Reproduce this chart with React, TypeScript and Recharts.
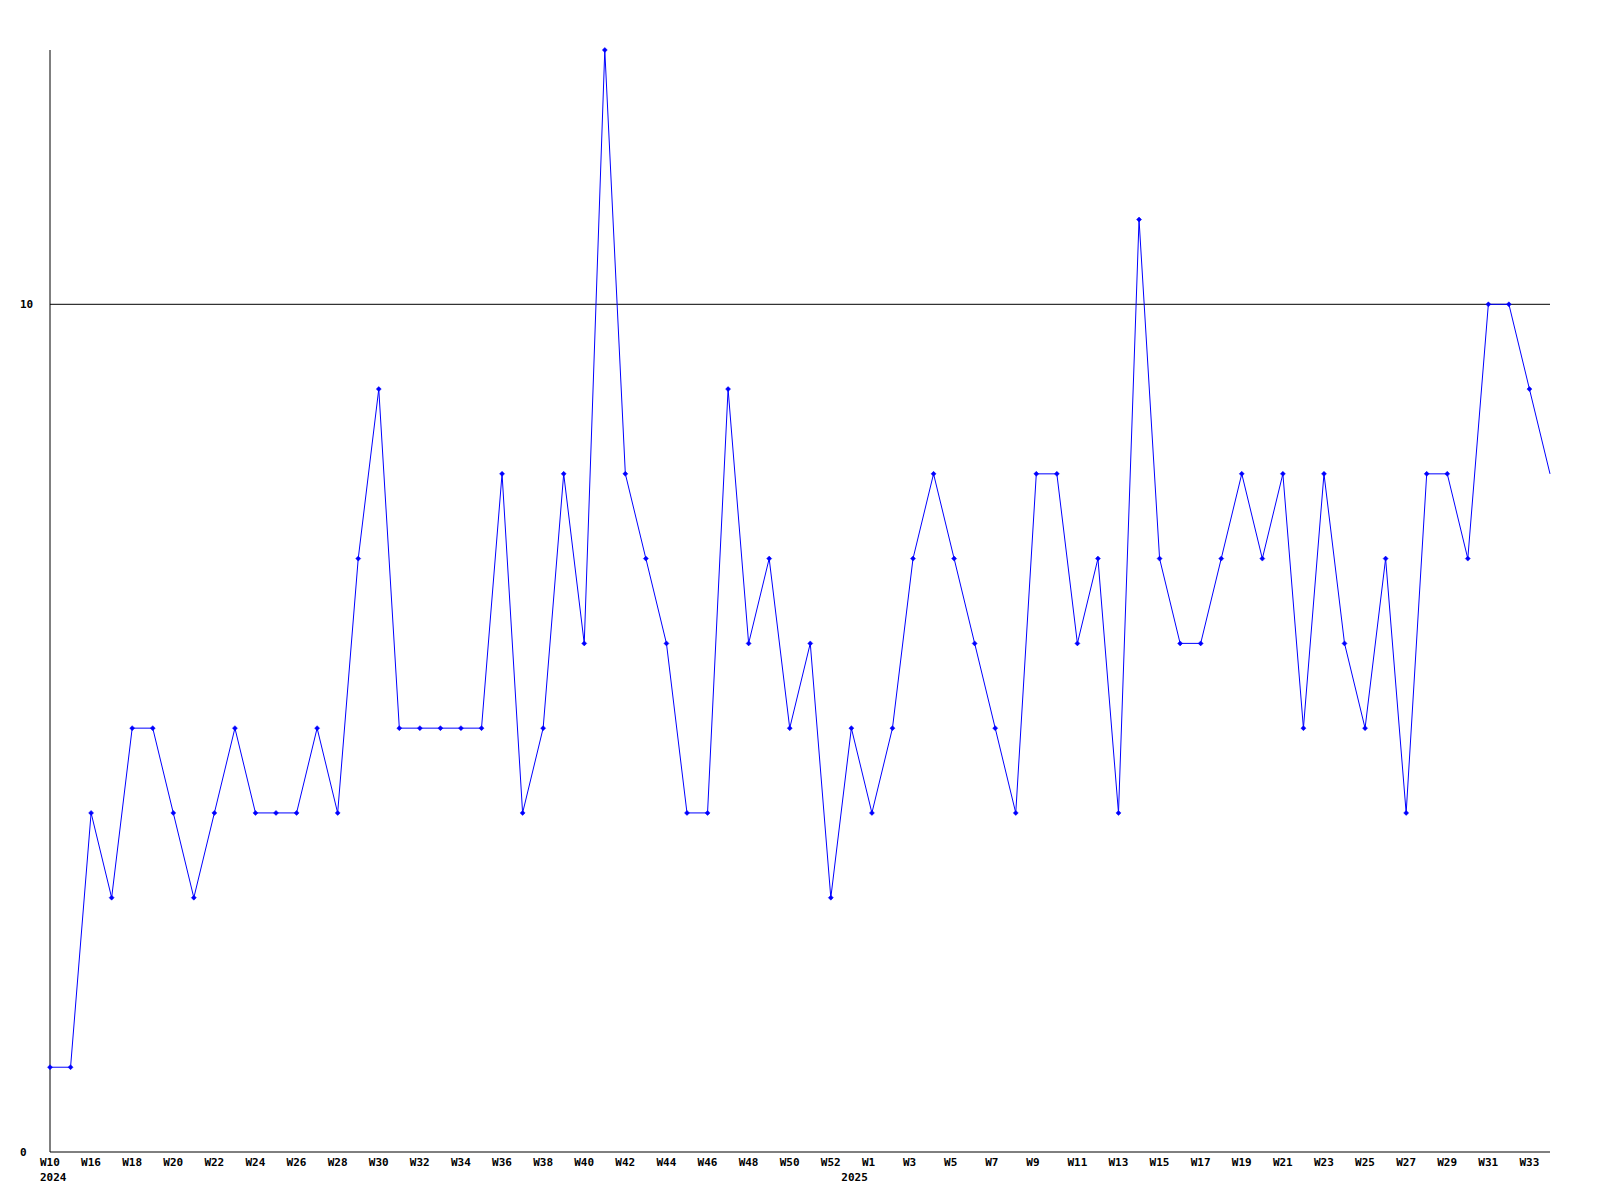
import React from "react";
import { LineChart, Line, XAxis, YAxis, ReferenceLine } from "recharts";

// one point per week, 2024-W10 .. 2025-W34 (gaps in the source data are kept as-is)
const weeks = [
  "W10", "W15", "W16", "W17", "W18", "W19", "W20", "W21", "W22", "W23",
  "W24", "W25", "W26", "W27", "W28", "W29", "W30", "W31", "W32", "W33",
  "W34", "W35", "W36", "W37", "W38", "W39", "W40", "W41", "W42", "W43",
  "W44", "W45", "W46", "W47", "W48", "W49", "W50", "W51", "W52", "W53",
  "W1", "W2", "W3", "W4", "W5", "W6", "W7", "W8", "W9", "W10",
  "W11", "W12", "W13", "W14", "W15", "W16", "W17", "W18", "W19", "W20",
  "W21", "W22", "W23", "W24", "W25", "W26", "W27", "W28", "W29", "W30",
  "W31", "W32", "W33", "W34",
];

const counts = [
  1, 1, 4, 3, 5, 5, 4, 3, 4, 5,
  4, 4, 4, 5, 4, 7, 9, 5, 5, 5,
  5, 5, 8, 4, 5, 8, 6, 13, 8, 7,
  6, 4, 4, 9, 6, 7, 5, 6, 3, 5,
  4, 5, 7, 8, 7, 6, 5, 4, 8, 8,
  6, 7, 4, 11, 7, 6, 6, 7, 8, 7,
  8, 5, 8, 6, 5, 7, 4, 8, 8, 7,
  10, 10, 9, 8,
];

// where each year's label sits on the axis
const yearStarts = [
  { index: 0, year: "2024" },
  { index: 39, year: "2025" },
];

const yTicks = [0, 10];

const data = weeks.map((week, i) => ({ key: i, week, count: counts[i] }));

const FONT = "'DejaVu Sans Mono', monospace";

const WeekTick = (props: any) => {
  const { x, y, payload, visibleTicksCount } = props;
  const idx = payload.value as number;
  // x of this tick minus one point step gives the previous point
  const step = props.width && weeks.length > 1 ? props.width / (weeks.length - 1) : 0;
  const years = yearStarts.filter((s) => s.index === idx || s.index === idx - 1);
  return (
    <g>
      <text x={x - 10} y={y + 6} fontFamily={FONT} fontSize={11} fontWeight="bold" fill="#000">
        {weeks[idx]}
      </text>
      {years.map((s) => (
        <text
          key={s.year}
          x={x - 10 - (idx - s.index) * step}
          y={y + 21}
          fontFamily={FONT}
          fontSize={11}
          fontWeight="bold"
          fill="#000"
        >
          {s.year}
        </text>
      ))}
    </g>
  );
};

const CountTick = (props: any) => {
  const { y, payload } = props;
  return (
    <text x={12} y={y + 4} fontFamily={FONT} fontSize={11} fontWeight="bold" fill="#000">
      {payload.value}
    </text>
  );
};

const Marker = (props: any) => {
  const { cx, cy, index } = props;
  if (index === counts.length - 1) return <g key={index} />;
  return (
    <path
      key={index}
      d={`M${cx - 2.5},${cy} L${cx},${cy - 2.5} L${cx + 2.5},${cy} L${cx},${cy + 2.5} Z`}
      fill="#0000ff"
      stroke="#0000ff"
      strokeWidth={0.5}
    />
  );
};

export default function App() {
  return (
    <LineChart
      width={1584}
      height={1184}
      data={data}
      margin={{ top: 42, right: 42, bottom: 0, left: 0 }}
    >
      <XAxis
        dataKey="key"
        type="category"
        height={40}
        interval={1}
        tickLine={false}
        axisLine={{ stroke: "#000" }}
        tick={<WeekTick />}
      />
      <YAxis
        width={42}
        domain={[0, 13]}
        ticks={yTicks}
        tickLine={false}
        axisLine={{ stroke: "#000" }}
        tick={<CountTick />}
      />
      <ReferenceLine y={10} stroke="#000" />
      <Line
        type="linear"
        dataKey="count"
        stroke="#0000ff"
        strokeWidth={1}
        dot={<Marker />}
        activeDot={false}
        isAnimationActive={false}
      />
    </LineChart>
  );
}
